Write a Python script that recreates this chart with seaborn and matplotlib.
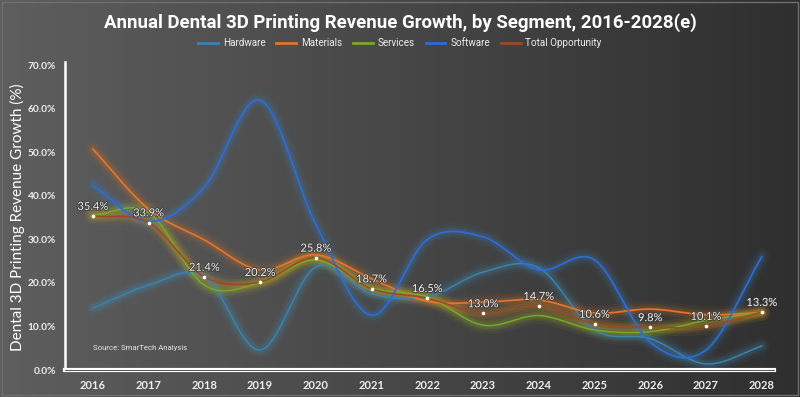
import numpy as np
import pandas as pd
import seaborn as sns
import matplotlib.pyplot as plt
import matplotlib.patheffects as pe
from matplotlib.colors import LinearSegmentedColormap
from matplotlib.patches import Rectangle
from matplotlib.ticker import PercentFormatter

# 1. Dados
anos = ["2016", "2017", "2018", "2019", "2020", "2021", "2022",
        "2023", "2024", "2025", "2026", "2027", "2028"]
hardware = [14.2, 19.5, 21.6, 4.6, 23.7, 17.5, 16.8, 22.5, 23.5, 9.2, 7.2, 1.4, 5.5]
materials = [50.8, 37.0, 29.9, 23.0, 26.5, 21.0, 15.8, 15.6, 16.1, 13.1, 14.0, 12.7, 13.2]
services = [35.6, 36.2, 19.5, 20.0, 25.3, 18.9, 16.8, 10.3, 12.5, 9.2, 8.8, 11.4, 13.2]
software = [42.5, 34.1, 42.0, 62.0, 33.5, 12.6, 30.0, 30.6, 23.0, 25.3, 6.4, 4.6, 26.0]
total = [35.4, 33.9, 21.4, 20.2, 25.8, 18.7, 16.5, 13.0, 14.7, 10.6, 9.8, 10.1, 13.3]

series = {
    "Hardware": (hardware, "#3b82ad", "#3fa0d0"),
    "Materials": (materials, "#e2742c", "#f07a20"),
    "Services": (services, "#78a82a", "#b8d020"),
    "Software": (software, "#2e6bd8", "#3a8ad0"),
    "Total Opportunity": (total, "#9a4a2a", "#f0a020"),
}


# 2. Suavização tipo "linha suavizada" do Excel (Catmull-Rom)
def suavizar(vals, n=40):
    p = np.asarray(vals, dtype=float)
    x = np.arange(len(p), dtype=float)
    pp = np.concatenate([[2 * p[0] - p[1]], p, [2 * p[-1] - p[-2]]])
    xs, ys = [], []
    for i in range(len(p) - 1):
        p0, p1, p2, p3 = pp[i], pp[i + 1], pp[i + 2], pp[i + 3]
        t = np.linspace(0, 1, n, endpoint=(i == len(p) - 2))
        y = 0.5 * ((2 * p1) + (-p0 + p2) * t + (2 * p0 - 5 * p1 + 4 * p2 - p3) * t ** 2
                   + (-p0 + 3 * p1 - 3 * p2 + p3) * t ** 3)
        xs.append(x[i] + t)
        ys.append(y)
    return np.concatenate(xs), np.concatenate(ys) / 100


# 3. Figura com fundo em degradê
fig = plt.figure(figsize=(8, 3.97), dpi=100)
bg = fig.add_axes([0, 0, 1, 1], zorder=-10)
grad = np.linspace(0, 1, 256).reshape(1, -1)
cmap_bg = LinearSegmentedColormap.from_list("bg", ["#5e5e5e", "#474747", "#2f2f2f"])
bg.imshow(grad, aspect="auto", cmap=cmap_bg, extent=[0, 1, 0, 1])
bg.add_patch(Rectangle((0.002, 0.004), 0.996, 0.992, fill=False, edgecolor="#6e6e6e",
                       lw=1, transform=bg.transAxes))
bg.axis("off")

ax = fig.add_axes([65 / 800, 27 / 397, 709 / 800, 308 / 397])
ax.set_facecolor("none")

for nome, (vals, cor, brilho) in series.items():
    xs, ys = suavizar(vals)
    for lw, a in [(12, 0.05), (8, 0.08), (5, 0.12)]:
        ax.plot(xs, ys, color=brilho, lw=lw, alpha=a, solid_capstyle="round", zorder=2)
    lw_main = 1.3 if nome in ("Software", "Materials") else 1.1
    sns.lineplot(x=xs, y=ys, ax=ax, color=cor, lw=lw_main, label=nome, zorder=3, sort=False)

# Marcadores e rótulos do total
pos = np.arange(len(anos))
tot = np.array(total) / 100
ax.scatter(pos, tot, s=7, color="white", zorder=5, linewidths=0)
for xi, yi, v in zip(pos, tot, total):
    ax.annotate(f"{v:.1f}%", (xi, yi), xytext=(0, 3), textcoords="offset points",
                ha="center", va="bottom", color="#f2f2f2", fontsize=8,
                family="Lato", zorder=6,
                path_effects=[pe.withStroke(linewidth=1.2, foreground="#3a3a3a")])

# 4. Eixos
ax.set_xlim(-0.5, 12.22)
ax.set_ylim(0, 0.708)
ax.set_xticks(pos)
ax.set_xticklabels(anos)
ax.set_yticks(np.arange(0, 0.71, 0.1))
ax.yaxis.set_major_formatter(PercentFormatter(1.0, decimals=1))
ax.tick_params(length=0, colors="#eeeeee")
ax.tick_params(axis="x", pad=7, labelsize=8)
ax.tick_params(axis="y", pad=6.5, labelsize=7.3)
for lab in ax.get_xticklabels() + ax.get_yticklabels():
    lab.set_family("Lato")
    lab.set_fontweight("bold")
for s in ["top", "right"]:
    ax.spines[s].set_visible(False)
ax.spines["left"].set_color("white")
ax.spines["left"].set_linewidth(1.8)
ax.spines["bottom"].set_color("white")
ax.spines["bottom"].set_linewidth(3)
ax.axhline(0, color="#3a3a3a", lw=0.6, zorder=10, clip_on=False)
ax.grid(False)

ax.set_ylabel("Dental 3D Printing Revenue Growth (%)", color="white", fontsize=11,
              family=["Liberation Sans Narrow", "Lato"])
ax.yaxis.set_label_coords(-0.057, 0.497)

ax.text(0, 0.071, "Source: SmarTech Analysis", color="#e6e6e6", fontsize=5.6,
        family="Roboto", ha="left", va="center", transform=ax.get_xaxis_transform())

# 5. Título e legenda
fig.text(0.5, 0.943, "Annual Dental 3D Printing Revenue Growth, by Segment, 2016-2028(e)",
         ha="center", va="center", color="white", fontsize=13.4, family="Roboto",
         fontweight="bold")
leg = ax.legend(loc="center", bbox_to_anchor=(0.5, 0.891), bbox_transform=fig.transFigure,
                ncol=5, frameon=False, handlelength=2.0, columnspacing=1.1,
                handletextpad=0.5, labelcolor="#eeeeee", prop={"family": "Roboto", "size": 7.1})
for h in leg.get_lines():
    h.set_linewidth(2)

fig.savefig("out.png", dpi=100)
